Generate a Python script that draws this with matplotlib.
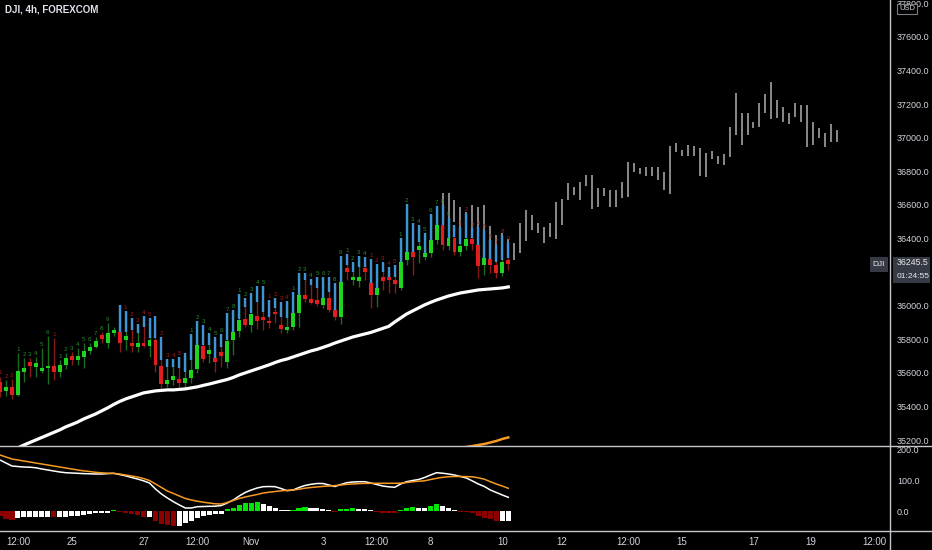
import numpy as np
import matplotlib.pyplot as plt
import matplotlib.transforms as mtransforms
from matplotlib.lines import Line2D
from matplotlib.patches import Rectangle

plt.rcParams['font.family'] = ['Liberation Sans', 'DejaVu Sans']

# ---- DJI 4h candles ----
opens = [35548, 35495, 35515, 35469, 35606, 35665, 35636, 35612, 35630, 35642,
         35606, 35648, 35701, 35677, 35695, 35731, 35755, 35826, 35778, 35838,
         35844, 35796, 35778, 35755, 35778, 35760, 35796, 35642, 35534, 35558,
         35564, 35540, 35570, 35624, 35760, 35713, 35689, 35725, 35665, 35796,
         35850, 35921, 35886, 35939, 35933, 35909, 35963, 35886, 35856, 35874,
         35957, 36064, 36040, 36034, 36005, 36046, 35975, 35933, 36225, 36153,
         36148, 36225, 36136, 36064, 36171, 36171, 36153, 36106, 36272, 36320,
         36332, 36290, 36314, 36392, 36481, 36356, 36403, 36320, 36356, 36397,
         36362, 36243, 36278, 36243, 36195, 36272]
closes = [35489, 35515, 35469, 35614, 35630, 35642, 35660, 35630, 35642, 35606,
          35648, 35689, 35677, 35701, 35731, 35755, 35790, 35802, 35838, 35856,
          35778, 35820, 35760, 35778, 35760, 35796, 35648, 35534, 35558, 35582,
          35540, 35570, 35618, 35767, 35683, 35737, 35665, 35701, 35790, 35844,
          35915, 35886, 35951, 35909, 35915, 35898, 35951, 35862, 35874, 35957,
          36064, 36040, 36017, 36010, 36046, 35975, 35933, 36142, 36201, 36171,
          36171, 36201, 36064, 36106, 36148, 36153, 36130, 36261, 36320, 36290,
          36356, 36314, 36392, 36481, 36362, 36403, 36320, 36356, 36397, 36368,
          36237, 36284, 36243, 36195, 36261, 36245.5]
highs = [35578, 35558, 35564, 35719, 35689, 35689, 35695, 35749, 35820, 35808,
         35677, 35719, 35725, 35749, 35778, 35778, 35814, 35844, 35898, 35874,
         36005, 35969, 35927, 35892, 35939, 35927, 35939, 35814, 35683, 35683,
         35695, 35719, 35832, 35909, 35886, 35838, 35814, 35832, 35957, 35975,
         36070, 36046, 36076, 36118, 36118, 36034, 36046, 36022, 36028, 36082,
         36195, 36195, 36159, 36171, 36171, 36171, 36136, 36296, 36308, 36261,
         36296, 36290, 36278, 36249, 36261, 36231, 36243, 36403, 36606, 36493,
         36481, 36433, 36546, 36594, 36600, 36522, 36481, 36469, 36552, 36463,
         36469, 36451, 36392, 36362, 36421, 36380]
lows = [35459, 35463, 35445, 35463, 35546, 35576, 35576, 35600, 35534, 35558,
        35576, 35624, 35648, 35648, 35630, 35713, 35749, 35778, 35749, 35820,
        35725, 35737, 35725, 35725, 35755, 35695, 35606, 35511, 35517, 35528,
        35517, 35511, 35540, 35600, 35665, 35660, 35606, 35636, 35630, 35707,
        35814, 35874, 35844, 35862, 35856, 35868, 35898, 35838, 35838, 35856,
        35874, 36022, 36010, 35999, 35987, 35963, 35915, 35892, 36153, 36124,
        36112, 36153, 35987, 35993, 36094, 36076, 36076, 36094, 36243, 36183,
        36255, 36272, 36290, 36368, 36332, 36332, 36302, 36296, 36330, 36332,
        36165, 36183, 36195, 36165, 36177, 36213]
# lower end of the blue upper-wick overlay (None = no overlay)
blue_low = [None] * 20 + [
    35844, 35844, 35856, 35838, 35874, 35808, 35808, 35677, 35636, 35636,
    35630, 35606, 35677, 35755, 35767, 35767, 35689, 35755, 35796, 35844,
    35921, 35993, 35957, 36022, 35963, 35933, 35987, 35933, 35927, 35957,
    36064, 36153, 36124, 36106, 36046, 36082, 35975, 36142, 36243, 36201,
    36231, 36231, 36136, 36106, 36201, 36171, 36171, 36261, 36320, 36320,
    36380, 36314, 36392, 36481, 36481, 36403, 36409, 36368, 36403, 36403,
    36362, 36284, 36278, 36261, 36272, 36284]

# TD-style counts (+ green, - red, 0 none)
td_count = [-1, -2, -3, 1, 2, 3, 4, 5, 6, -1,
            1, 2, 3, 4, 5, 6, 7, 8, 9, 0,
            0, -1, -2, -3, -4, -5, 0, -2, -3, -4,
            -5, 0, 1, 2, 3, 4, 5, 6, 7, 8,
            1, 2, 3, 4, 5, -1, -2, -3, -4, 1,
            2, 3, 4, 5, 6, 7, 8, 9, 1, 2,
            3, 4, -1, -2, -3, -4, -5, 1, 2, 3,
            4, 5, 6, 7, 8, 9, 0, -1, -2, -3,
            -4, -5, -6, -7, -8, -9]

# projected (gray) high-low bars, starting at bar 74
proj_start = 74
proj_high = [36671, 36671, 36630, 36588, 36560, 36600, 36588, 36600, 36475, 36420, 36430, 36400,
             36376, 36491, 36570, 36541, 36495, 36471, 36491, 36620, 36634, 36729,
             36709, 36735, 36779, 36779, 36699, 36699, 36689, 36689, 36739, 36858,
             36852, 36819, 36828, 36828, 36828, 36798, 36951, 36967, 36927, 36957,
             36951, 36938, 36912, 36921, 36892, 36904, 37063, 37265, 37149, 37146,
             37096, 37205, 37261, 37334, 37225, 37185, 37146, 37209, 37195, 37195,
             37096, 37057, 37027, 37082, 37046]
proj_low = [36540, 36520, 36500, 36470, 36450, 36440, 36440, 36440, 36390, 36350, 36330, 36300,
            36273, 36316, 36388, 36451, 36432, 36376, 36411, 36396, 36481, 36630,
            36660, 36630, 36713, 36574, 36590, 36654, 36590, 36590, 36640, 36649,
            36798, 36785, 36773, 36773, 36749, 36689, 36666, 36917, 36892, 36892,
            36892, 36773, 36765, 36872, 36844, 36838, 36884, 37017, 36957, 37017,
            37057, 37066, 37149, 37110, 37116, 37096, 37082, 37126, 37096, 36947,
            36957, 36997, 36947, 36977, 36977]

ma_white = [35106, 35124, 35139, 35154, 35171, 35186, 35201, 35216, 35231, 35246,
            35261, 35279, 35293, 35308, 35326, 35341, 35356, 35374, 35392, 35412,
            35430, 35445, 35457, 35469, 35481, 35487, 35493, 35496, 35499, 35499,
            35502, 35505, 35511, 35517, 35526, 35534, 35543, 35552, 35561, 35573,
            35588, 35600, 35612, 35624, 35636, 35648, 35662, 35674, 35683, 35695,
            35707, 35719, 35731, 35740, 35752, 35764, 35778, 35790, 35802, 35814,
            35823, 35832, 35841, 35853, 35865, 35877, 35903, 35927, 35951, 35969,
            35987, 36005, 36020, 36034, 36046, 36058, 36067, 36076, 36082, 36088,
            36094, 36097, 36100, 36103, 36106, 36112]
ma_orange_start = 76
ma_orange = [35148, 35154, 35159, 35165, 35171, 35177, 35186, 35195, 35207, 35216]

# MACD pane
macd = [164.5, 154.8, 145.2, 143.5, 141.9, 141.3, 139.4, 135.5, 132.3, 129.0,
        125.8, 123.5, 122.6, 121.6, 120.6, 120.0, 119.4, 119.4, 120.6, 121.6,
        117.7, 113.5, 108.1, 103.2, 97.4, 90.3, 71.0, 54.8, 41.9, 30.0,
        19.4, 9.7, 9.7, 13.9, 14.5, 15.2, 15.5, 17.7, 25.8, 35.5,
        48.4, 59.7, 67.7, 74.2, 78.4, 79.0, 78.4, 72.6, 65.5, 67.7,
        75.8, 82.3, 86.1, 88.7, 88.7, 83.9, 79.0, 85.5, 91.3, 93.5,
        94.5, 94.5, 90.3, 85.5, 80.6, 78.1, 76.5, 87.1, 94.5, 98.4,
        101.6, 108.1, 116.1, 123.5, 121.9, 119.4, 116.1, 111.3, 106.5, 96.8,
        87.1, 79.0, 67.7, 59.7, 51.6, 44.2]
signal = [180.6, 174.2, 167.7, 164.5, 161.3, 158.1, 154.8, 151.6, 148.4, 145.2,
          141.9, 138.7, 135.5, 132.3, 129.4, 127.4, 124.8, 123.2, 121.9, 121.3,
          119.4, 116.1, 112.9, 109.7, 104.8, 98.4, 87.1, 75.8, 64.5, 56.5,
          48.4, 40.3, 35.5, 31.6, 28.4, 25.8, 23.2, 22.6, 27.4, 33.9,
          40.3, 45.2, 49.4, 53.2, 58.1, 60.6, 62.9, 65.2, 66.8, 67.7,
          70.3, 73.5, 75.8, 77.7, 79.4, 80.6, 81.9, 83.9, 86.1, 87.1,
          88.4, 89.0, 89.4, 89.4, 89.4, 89.4, 89.4, 89.7, 91.9, 94.2,
          96.1, 97.4, 101.6, 105.5, 108.7, 110.6, 111.3, 111.3, 111.0, 110.3,
          107.1, 102.6, 94.5, 87.1, 80.6, 73.2]
hist = [-16, -27, -30, -21, -19, -19, -19, -19, -19, -20,
        -19, -18, -17, -16, -13, -9, -8, -6, -5, 2,
        -4, -6, -9, -12, -20, -18, -32, -41, -45, -49,
        -48, -38, -32, -21, -15, -13, -11, -9, 5, 11,
        19, 25, 27, 28, 22, 16, 11, 3, 2, 3,
        11, 13, 11, 9, 6, 2, -4, 5, 8, 9,
        8, 5, 2, -4, -5, -6, -8, 3, 11, 12,
        9, 9, 15, 22, 15, 11, 4, -3, -4, -8,
        -15, -21, -26, -32, -31, -31]

tick_pos = [3, 12, 24, 33, 42, 54, 63, 72, 84, 94, 105, 114, 126, 135.5, 146.3]
tick_labels = ['12:00', '25', '27', '12:00', 'Nov', '3', '12:00', '8', '10',
               '12', '12:00', '15', '17', '19', '12:00']
price_ticks = [35200, 35400, 35600, 35800, 36000, 36400, 36600, 36800,
               37000, 37200, 37400, 37600, 37800]  # 36200 sits under the last-price badge
macd_ticks = [0, 100, 200]
countdown = '01:24:55'

# ---- figure ----
W, H = 932, 550
fig = plt.figure(figsize=(W / 100, H / 100), dpi=100, facecolor='black')
ax = fig.add_axes([0, 104 / H, 890 / W, 446 / H], facecolor='black')
ax2 = fig.add_axes([0, 19 / H, 890 / W, 85 / H], facecolor='black')

o = np.array(opens, float)
c = np.array(closes, float)
hi = np.array(highs, float)
lo = np.array(lows, float)
bl = np.array([np.nan if v is None else v for v in blue_low], float)
idx = np.arange(len(o))
up = c >= o

# projection bars underneath
pidx = np.arange(proj_start, proj_start + len(proj_high))
ax.vlines(pidx, proj_low, proj_high, colors='#8a8a8a', linewidth=1.4, zorder=1)

# wicks, blue overlay, bodies
ax.vlines(idx, lo, hi, colors=np.where(up, '#1c6b22', '#861b1b'), linewidth=1.0, zorder=2)
mb = ~np.isnan(bl)
ax.vlines(idx[mb], bl[mb], hi[mb], colors='#3d95d6', linewidth=1.7, zorder=3)
body_h = np.maximum(np.abs(c - o), 6)
ax.bar(idx, body_h, bottom=np.minimum(o, c), width=0.66,
       color=np.where(up, '#1fd41f', '#e11d1d'), linewidth=0, zorder=4)

# TD counts
for i, n in enumerate(td_count):
    if n == 0:
        continue
    ax.text(i, hi[i] + 8, str(abs(n)), fontsize=4.5, ha='center', va='bottom',
            color='#2a8a30' if n > 0 else '#a01c1a', zorder=5)

# moving averages
ax.plot(idx, ma_white, color='white', linewidth=2.3, zorder=6)
oidx = np.arange(ma_orange_start, ma_orange_start + len(ma_orange))
ax.plot(oidx, ma_orange, color='#f59a23', linewidth=1.8, zorder=6)

ax.set_xlim(0, 890 / 5.98)
ax.set_ylim(35165, 37820)
ax.set_xticks([])
ax.yaxis.tick_right()
ax.set_yticks(price_ticks)
ax.set_yticklabels([f'{v:.1f}' for v in price_ticks])
ax.tick_params(axis='y', length=0, pad=5, labelsize=6.5, labelcolor='#d1d4dc')
for s in ax.spines.values():
    s.set_visible(False)

# last price / symbol badges
trans = mtransforms.blended_transform_factory(ax.transAxes, ax.transData)
last = c[-1]
ax.add_patch(Rectangle((1.0034, last - 113), 37 / 890, 160, transform=trans,
                       clip_on=False, facecolor='#363a45', edgecolor='none', zorder=10))
ax.text(1.0079, last + 12, f'{last:.1f}', transform=trans, fontsize=6.3, color='#e8e8ea',
        va='center', ha='left', zorder=11, clip_on=False)
ax.text(1.0079, last - 72, countdown, transform=trans, fontsize=6.0, color='#e8e8ea',
        va='center', ha='left', zorder=11, clip_on=False)
ax.add_patch(Rectangle((870 / 890, last - 42), 18 / 890, 84, transform=trans,
                       clip_on=False, facecolor='#363a45', edgecolor='none', zorder=10))
ax.text(879 / 890, last, 'DJI', transform=trans, fontsize=6, color='#e8e8ea',
        va='center', ha='center', zorder=11)

# MACD pane
hcol = []
for k, h in enumerate(hist):
    prev = hist[k - 1] if k else 0
    if h >= 0:
        hcol.append('#00e600' if h > prev else 'white')
    else:
        hcol.append('#8e0000' if h < prev else 'white')
ax2.bar(idx, hist, width=0.85, color=hcol, linewidth=0, zorder=2)
ax2.plot(idx, macd, color='white', linewidth=1.1, zorder=3)
ax2.plot(idx, signal, color='#f59a23', linewidth=1.1, zorder=3)
ax2.set_xlim(ax.get_xlim())
ax2.set_ylim(-64.5, 209.7)
ax2.yaxis.tick_right()
ax2.set_yticks(macd_ticks)
ax2.set_yticklabels([f'{v:.1f}' for v in macd_ticks])
ax2.set_xticks(tick_pos)
ax2.set_xticklabels(tick_labels)
ax2.tick_params(axis='y', length=0, pad=5, labelsize=6.5, labelcolor='#d1d4dc')
ax2.tick_params(axis='x', length=0, pad=4, labelsize=7, labelcolor='#d1d4dc')
for s in ax2.spines.values():
    s.set_visible(False)

# pane separators
lc = '#c4c6cc'
fig.add_artist(Line2D([0, 1], [104 / H, 104 / H], transform=fig.transFigure, color=lc, lw=1))
fig.add_artist(Line2D([0, 1], [19 / H, 19 / H], transform=fig.transFigure, color=lc, lw=1))
fig.add_artist(Line2D([890 / W, 890 / W], [0, 1], transform=fig.transFigure, color=lc, lw=1))

fig.text(5 / W, 1 - 10 / H, 'DJI, 4h, FOREXCOM', fontsize=7, color='#e0e3eb',
         fontweight='bold', va='center', ha='left')
fig.text(907 / W, 1 - 9 / H, 'USD', fontsize=5.5, color='#d1d4dc', va='center', ha='center',
         bbox=dict(boxstyle='square,pad=0.25', facecolor='black', edgecolor='#787b86', lw=0.8))

fig.savefig('out.png', dpi=100, facecolor='black')
